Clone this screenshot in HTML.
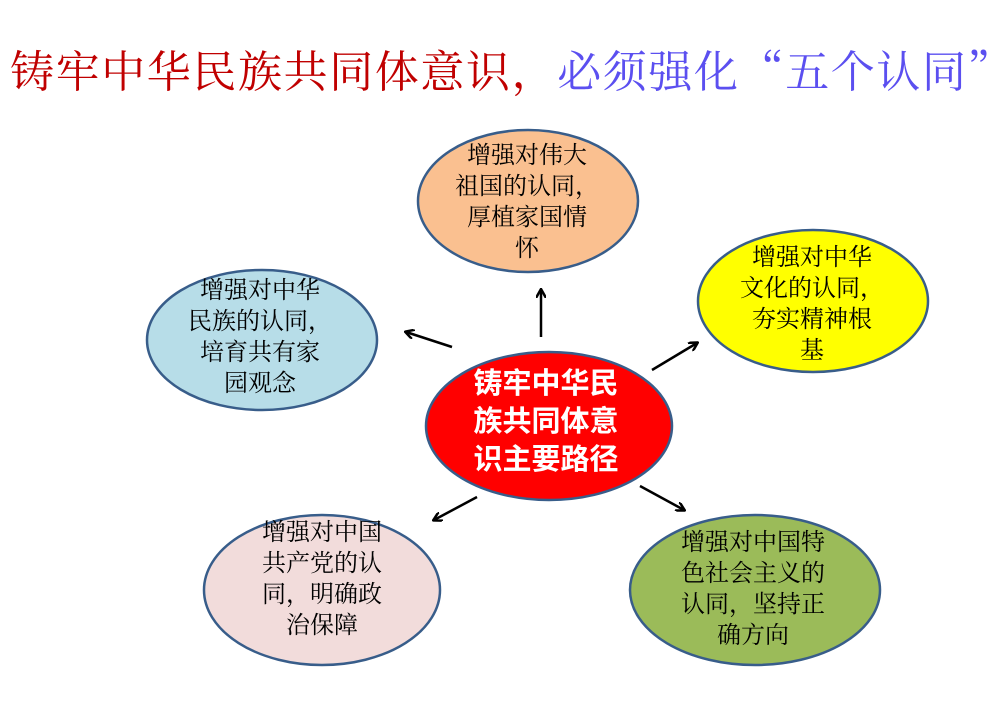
<!DOCTYPE html>
<html><head><meta charset="utf-8"><style>
body{margin:0;width:990px;height:728px;background:#fff;position:relative;overflow:hidden;font-family:"Noto Serif CJK SC","Liberation Serif",serif;}
.t{position:absolute;text-align:center;font-size:24px;line-height:31px;color:#000;width:240px;}
.c{position:absolute;text-align:center;font-family:"Liberation Sans","Noto Sans CJK SC",sans-serif;font-weight:bold;font-size:29px;line-height:38px;color:#fff;width:240px;}
.title{position:absolute;top:40px;left:10px;font-size:44px;line-height:56px;white-space:nowrap;letter-spacing:1.6px}
</style></head><body>
<svg width="990" height="728" style="position:absolute;left:0;top:0">
<defs><marker id="a" markerWidth="10" markerHeight="10" refX="8" refY="5" orient="auto" markerUnits="userSpaceOnUse"><path d="M0,0 L9,5 L0,10" fill="none" stroke="#000" stroke-width="2.5"/></marker></defs>
<g stroke="#385d8a" stroke-width="2.5">
<ellipse cx="528" cy="201" rx="110" ry="71" fill="#fac090"/>
<ellipse cx="262" cy="340" rx="115" ry="70" fill="#b7dde8"/>
<ellipse cx="813" cy="301" rx="115" ry="71" fill="#ffff00"/>
<ellipse cx="549" cy="426" rx="123" ry="74" fill="#ff0000"/>
<ellipse cx="322" cy="590" rx="118" ry="75" fill="#f2dcdb"/>
<ellipse cx="755" cy="590" rx="125" ry="75" fill="#9bbb59"/>
</g>
<g stroke="#000" stroke-width="2.5" marker-end="url(#a)">
<line x1="541" y1="337" x2="541" y2="290"/>
<line x1="452" y1="347" x2="406" y2="332"/>
<line x1="652" y1="370" x2="697" y2="343"/>
<line x1="477" y1="497" x2="434" y2="520"/>
<line x1="640" y1="486" x2="684" y2="510"/>
</g>
</svg>
<div class="title"><span style="color:#c00000">铸牢中华民族共同体意识，</span><span style="color:#5b4ff0">必须强化“五个认同”</span></div>
<div class="t" style="left:407px;top:137px">增强对伟大<br>祖国的认同，<br>厚植家国情<br>怀</div>
<div class="t" style="left:140px;top:272px">增强对中华<br>民族的认同，<br>培育共有家<br>园观念</div>
<div class="t" style="left:692px;top:239px">增强对中华<br>文化的认同，<br>夯实精神根<br>基</div>
<div class="t" style="left:202px;top:514px">增强对中国<br>共产党的认<br>同，明确政<br>治保障</div>
<div class="t" style="left:633px;top:524px">增强对中国特<br>色社会主义的<br>认同，坚持正<br>确方向</div>
<div class="c" style="left:426px;top:365px">铸牢中华民<br>族共同体意<br>识主要路径</div>
</body></html>
